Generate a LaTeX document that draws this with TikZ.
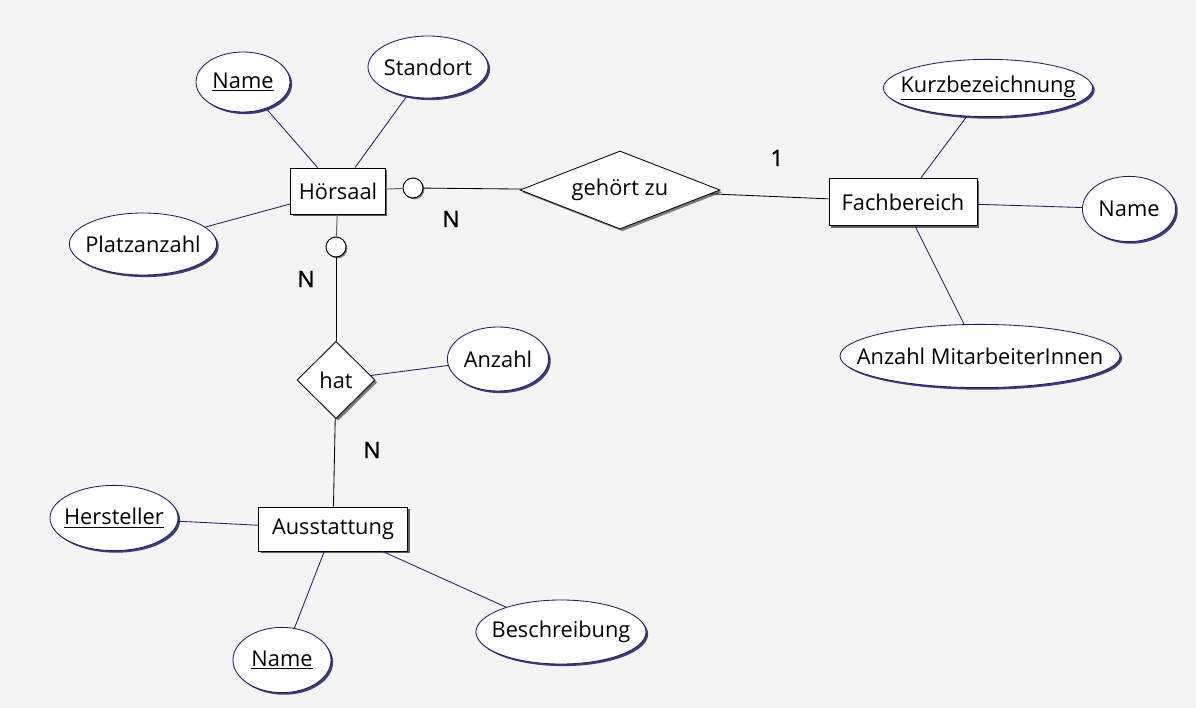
\documentclass[tikz,border=0pt]{standalone}
\usepackage{fontspec}
\setmainfont{Open Sans}
\newfontfamily\cardfont[FakeBold=1.2]{Open Sans}
\usepackage{xcolor}
\usepackage{tikz}
\usetikzlibrary{shapes.geometric}
\usetikzlibrary{shadows}

\definecolor{bgcol}{HTML}{F4F4F4}
\definecolor{attrcol}{RGB}{30,30,100}
\definecolor{linkgray}{RGB}{100,100,100}

\begin{document}
\begin{tikzpicture}[x=0.025cm, y=-0.025cm,
  font=\fontsize{15.5}{17}\selectfont,
  entity/.style={rectangle, draw=black, fill=white, line width=0.7pt, inner sep=0pt,
    drop shadow={shadow xshift=1.6pt, shadow yshift=-1.6pt, fill=black, opacity=0.6}},
  attr/.style={ellipse, draw=attrcol, fill=white, line width=0.6pt, inner sep=-1cm,
    drop shadow={shadow xshift=1.5pt, shadow yshift=-1.5pt, fill=attrcol, opacity=0.85}},
  rel/.style={diamond, draw=black, fill=white, line width=0.6pt, inner sep=0pt, shape aspect=2.5,
    drop shadow={shadow xshift=1.6pt, shadow yshift=-1.6pt, fill=black, opacity=0.5}},
  opt/.style={circle, draw=black, fill=white, line width=0.7pt, inner sep=0pt, minimum size=0.5cm,
    drop shadow={shadow xshift=1pt, shadow yshift=-1pt, fill=black, opacity=0.5}},
  card/.style={font=\cardfont\fontsize{16}{18}\selectfont},
  attrline/.style={draw=attrcol, line width=0.6pt},
  relline/.style={draw=black, line width=0.6pt}]

  \fill[bgcol] (0,0) rectangle (1196,708);
  \useasboundingbox (0,0) rectangle (1196,708);

  % entities
  \node[entity, minimum width=2.35cm, minimum height=1.15cm] (hoersaal) at (338,191) {Hörsaal};
  \node[entity, minimum width=3.7cm, minimum height=1.18cm] (fachbereich) at (903,202) {Fachbereich};
  \node[entity, minimum width=3.73cm, minimum height=1.1cm] (ausstattung) at (333,529) {Ausstattung};

  % relationships
  \node[rel, minimum width=5cm, minimum height=1.95cm] (gehoert) at (620,190) {gehört zu};
  \node[rel, shape aspect=1, minimum width=1.95cm, minimum height=1.93cm] (hat) at (336,380) {hat};

  % attributes
  \node[attr, minimum width=2.35cm, minimum height=1.5cm] (hsname) at (243,82) {\underline{Name}};
  \node[attr, minimum width=3cm, minimum height=1.55cm] (standort) at (428,67) {Standort};
  \node[attr, minimum width=3.68cm, minimum height=1.55cm] (platz) at (143,244) {Platzanzahl};
  \node[attr, minimum width=5.23cm, minimum height=1.43cm] (kurz) at (988,88) {\underline{Kurzbezeichnung}};
  \node[attr, minimum width=2.33cm, minimum height=1.63cm] (fbname) at (1129,209) {Name};
  \node[attr, minimum width=7cm, minimum height=1.58cm] (mitarb) at (980,356) {Anzahl MitarbeiterInnen};
  \node[attr, minimum width=2.53cm, minimum height=1.6cm] (anzahl) at (498,359) {Anzahl};
  \node[attr, minimum width=3.2cm, minimum height=1.63cm] (hersteller) at (114,518) {\underline{Hersteller}};
  \node[attr, minimum width=2.45cm, minimum height=1.63cm] (aname) at (282,660) {\underline{Name}};
  \node[attr, minimum width=4.25cm, minimum height=1.6cm] (beschr) at (561,632) {Beschreibung};

  % optional markers
  \node[opt] (optr) at (413,188) {};
  \node[opt] (optb) at (336,247) {};

  % cardinalities
  \node[card] (cardhr) at (451,219) {N};
  \node[card] (cardhb) at (306,279) {N};
  \node[card] (cardau) at (372,450) {N};
  \node[card] (cardfb) at (777,158) {1};

  % attribute lines
  \draw[attrline] (hsname) -- (hoersaal);
  \draw[attrline] (standort) -- (hoersaal);
  \draw[attrline] (platz) -- (hoersaal);
  \draw[attrline] (kurz) -- (fachbereich);
  \draw[attrline] (fbname) -- (fachbereich);
  \draw[attrline] (mitarb) -- (fachbereich);
  \draw[attrline] (anzahl) -- (hat);
  \draw[attrline] (hersteller) -- (ausstattung);
  \draw[attrline] (aname) -- (ausstattung);
  \draw[attrline] (beschr) -- (ausstattung);

  % relationship lines
  \draw[linkgray, line width=0.7pt] (hoersaal) -- (optr);
  \draw[relline] (optr) -- (gehoert);
  \draw[relline] (gehoert) -- (fachbereich);
  \draw[linkgray, line width=0.7pt] (hoersaal) -- (optb);
  \draw[relline] (optb) -- (hat);
  \draw[relline] (hat) -- (ausstattung);
\end{tikzpicture}
\end{document}
